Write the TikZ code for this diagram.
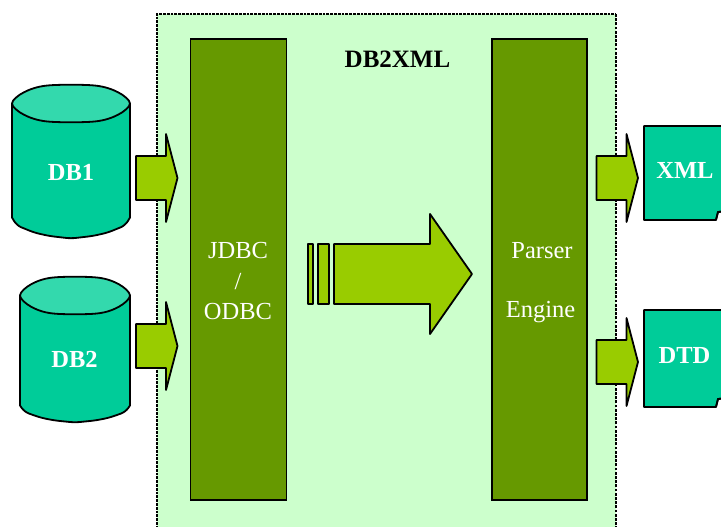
\documentclass[tikz,border=0pt]{standalone}
\usepackage{fontspec}
\setmainfont{Liberation Serif}
\definecolor{panel}{HTML}{CCFFCC}
\definecolor{bar}{HTML}{669900}
\definecolor{arrowc}{HTML}{99CC00}
\definecolor{teal}{HTML}{00CC99}
\definecolor{tealtop}{HTML}{33D9AD}
\tikzset{
 outl/.style={draw=black,line width=1.8pt,line join=round},
 barbox/.style={fill=bar,draw=black,line width=1.8pt,anchor=north west,inner sep=0pt,outer sep=0pt},
 arw/.style={outl,fill=arrowc},
 dbody/.style={outl,fill=teal},
 dtop/.style={outl,fill=tealtop},
 dlabel/.style={text=white,font=\fontsize{24.5}{24.5}\selectfont\bfseries,inner sep=0pt},
 barlabel/.style={text=white,font=\fontsize{24.5}{24.5}\selectfont,inner sep=0pt},
}
\newcommand{\smallarrow}[2]{% x, y centre
 \draw[arw] (#1,#2-22) -- (#1+30,#2-22) -- (#1+30,#2-44) -- (#1+41.5,#2) -- (#1+30,#2+44) -- (#1+30,#2+22) -- (#1,#2+22) -- cycle;}
% centre x, rim y, half width, rim half height, shoulder y offset, bottom drop
\newcommand{\dbcyl}[6]{%
 \begin{scope}[shift={(#1,#2)}]
 \draw[dbody] (-#3,0) -- (-#3,#5)
  [rounded corners=5pt] -- (-.92*#3,#5+.38*#6) -- (-.62*#3,#5+.72*#6) -- (-.37*#3,#5+.88*#6) -- (0,#5+#6)
  -- (.37*#3,#5+.88*#6) -- (.62*#3,#5+.72*#6) -- (.92*#3,#5+.38*#6) [rounded corners=0pt] -- (#3,#5) -- (#3,0) -- cycle;
 \draw[dtop] plot[smooth cycle,tension=.55] coordinates {(-#3,0) (-.8*#3,-.62*#4) (-.4*#3,-#4) (.4*#3,-#4) (.8*#3,-.62*#4) (#3,0)
  (.8*#3,.62*#4) (.4*#3,#4) (-.4*#3,#4) (-.8*#3,.62*#4)};
 \end{scope}}
% left, top, height
\newcommand{\docshape}[3]{%
 \draw[dbody] (#1,#2) -- (#1+82,#2) -- (#1+82,#2+#3-9) -- (#1+74,#2+#3-8) -- (#1+72,#2+#3) -- (#1,#2+#3) -- cycle;
 \draw[outl] (#1+72,#2+#3) -- (#1+74,#2+#3-8) -- (#1+82,#2+#3-9);}
\begin{document}
\begin{tikzpicture}[x=1pt,y=-1pt]
\useasboundingbox (0,0) rectangle (721,527);
\clip (0,0) rectangle (721,527);
% panel
\fill[panel] (157,14) rectangle (616,540);
\draw[line width=2.2pt,dash pattern=on 2.8pt off 1pt] (157,540) -- (157,14) -- (616,14);
\draw[line width=1.2pt,dash pattern=on 2.8pt off 1.4pt] (616,14) -- (616,540);
% bars
\node[barbox,minimum width=96pt,minimum height=461pt] (jdbc) at (190.5,39) {};
\node[barbox,minimum width=95pt,minimum height=461pt] (parser) at (492,39) {};
\node[barlabel] (t1) at (238,251) {JDBC};
\node[barlabel] (t2) at (238,282) {/};
\node[barlabel] (t3) at (238,312) {ODBC};
\node[barlabel] (t4) at (542,251) {Parser};
\node[barlabel] (t5) at (540.5,312) {Engine};
\node[font=\fontsize{25}{25}\selectfont\bfseries,inner sep=0pt] (title) at (397.5,59) {DB2XML};
% databases
\dbcyl{71}{103.5}{59}{18}{114}{21}
\dbcyl{75}{295.5}{55}{18}{110}{17}
\node[dlabel] (db1) at (71,172.5) {DB1};
\node[dlabel] (db2) at (74.5,359.5) {DB2};
% small arrows
\smallarrow{136}{178}
\smallarrow{136}{346}
\smallarrow{596.5}{178}
\smallarrow{596.5}{362}
% big arrow
\draw[arw] (308,244) rectangle (313,304);
\draw[arw] (318,244) rectangle (329,304);
\draw[arw] (334,244) -- (430,244) -- (430,214) -- (472,274) -- (430,334) -- (430,304) -- (334,304) -- cycle;
% documents
\docshape{644}{126}{94}
\docshape{644}{310}{97}
\node[dlabel] (xml) at (685,170.5) {XML};
\node[dlabel] (dtd) at (684.5,355.5) {DTD};
\end{tikzpicture}
\end{document}
